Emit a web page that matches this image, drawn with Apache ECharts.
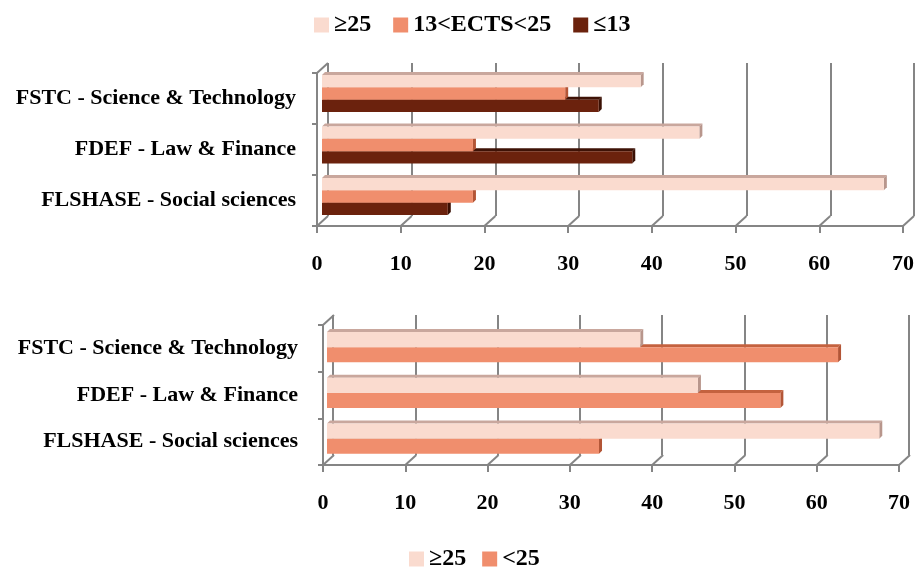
<!DOCTYPE html>
<html>
<head>
<meta charset="utf-8">
<script src="https://cdn.jsdelivr.net/npm/echarts@6/dist/echarts.min.js"></script>
<style>
  html, body { margin: 0; padding: 0; background: #ffffff; }
  #chart { width: 919px; height: 568px; }
</style>
</head>
<body>
<div id="chart"></div>
<script>
// Faculties, listed from top to bottom
const faculties = ['FSTC - Science & Technology', 'FDEF - Law & Finance', 'FLSHASE - Social sciences'];

// Share of students (%) by ECTS credits obtained
const ects25Plus = [38, 45, 67];
const ects13to25 = [29, 18, 18];
const ects13OrLess = [33, 37, 15];
const ectsBelow25 = [62, 55, 33];

// Value axis ticks
const xTicks = [0, 10, 20, 30, 40, 50, 60, 70];

const FONT = 'Liberation Serif';
const GRID_GRAY = '#858585';
const DEPTH_X = 11, DEPTH_Y = 10;   // floor depth of the 3-D box
const BAR_D = 3;                    // depth of each bar

const palette = {
  p25:   { face: '#FADBCF', top: '#C9A79D', side: '#B8968C' },
  p1325: { face: '#F08E6D', top: '#C4623F', side: '#B35536' },
  p13:   { face: '#6B220D', top: '#3E1206', side: '#3A1004' },
};

function toPairs(arr) { return arr.map((v, i) => [v, i]); }

// 3-D looking horizontal bar: front face, top face and right end face
function bar3d(slot, nSlots, ratio, col) {
  return function (params, api) {
    const cat = api.value(1);
    const start = api.coord([0, cat]);
    const end = api.coord([api.value(0), cat]);
    const band = api.size([0, 1])[1];
    const h = band * ratio;
    const y0 = start[1] - h * nSlots / 2 + h * slot;
    const x0 = start[0], x1 = end[0], d = BAR_D;
    return {
      type: 'group',
      children: [
        { type: 'polygon', shape: { points: [[x0, y0], [x1, y0], [x1 + d, y0 - d], [x0 + d, y0 - d]] }, style: { fill: col.top } },
        { type: 'polygon', shape: { points: [[x1, y0], [x1 + d, y0 - d], [x1 + d, y0 + h - d], [x1, y0 + h]] }, style: { fill: col.side } },
        { type: 'rect', shape: { x: x0, y: y0, width: x1 - x0, height: h }, style: { fill: col.face } }
      ]
    };
  };
}

// Floor edges joining the front axis ticks to the back wall, plus the left wall top edge
function floorEdges(params, api) {
  const cs = params.coordSys;
  const x = api.coord([api.value(0), 0])[0];
  const yb = cs.y + cs.height;
  const children = [
    { type: 'line', shape: { x1: x, y1: yb, x2: x + DEPTH_X, y2: yb - DEPTH_Y }, style: { stroke: GRID_GRAY, lineWidth: 2 } }
  ];
  if (params.dataIndex === 0) {
    children.push({ type: 'line', shape: { x1: x, y1: cs.y, x2: x + DEPTH_X, y2: cs.y - DEPTH_Y }, style: { stroke: GRID_GRAY, lineWidth: 2 } });
  }
  return { type: 'group', children: children };
}

const labelStyle = { fontFamily: FONT, fontWeight: 'bold', fontSize: 22, color: '#000' };

function backAxes(gi) {
  return {
    x: { gridIndex: gi, type: 'value', min: 0, max: 70, interval: 10,
         axisLine: { show: false }, axisTick: { show: false }, axisLabel: { show: false },
         splitLine: { show: true, showMinLine: true, showMaxLine: true, lineStyle: { color: GRID_GRAY, width: 2 } } },
    y: { gridIndex: gi, type: 'category', data: faculties, inverse: true,
         axisLine: { show: false }, axisTick: { show: false }, axisLabel: { show: false }, splitLine: { show: false } }
  };
}
function frontAxes(gi, labelMargin) {
  return {
    x: { gridIndex: gi, type: 'value', min: 0, max: 70, interval: 10,
         axisLine: { show: true, lineStyle: { color: GRID_GRAY, width: 2 } },
         axisTick: { show: true, length: 7, lineStyle: { color: GRID_GRAY, width: 2 } },
         axisLabel: Object.assign({ margin: 27 }, labelStyle),
         splitLine: { show: false } },
    y: { gridIndex: gi, type: 'category', data: faculties, inverse: true,
         axisLine: { show: true, lineStyle: { color: GRID_GRAY, width: 2 } },
         axisTick: { show: true, length: 5, lineStyle: { color: GRID_GRAY, width: 2 } },
         axisLabel: Object.assign({ margin: labelMargin }, labelStyle),
         splitLine: { show: false } }
  };
}
function barAxes(gi) {
  return {
    x: { gridIndex: gi, type: 'value', min: 0, max: 70, show: false },
    y: { gridIndex: gi, type: 'category', data: faculties, inverse: true, show: false }
  };
}

const axesList = [
  backAxes(0), frontAxes(1, 21), barAxes(2),
  backAxes(3), frontAxes(4, 25), barAxes(5)
];

const option = {
  backgroundColor: '#ffffff',
  animation: false,
  legend: [
    { data: ['≥25', '13<ECTS<25', '≤13'], left: 309, top: 8, icon: 'rect',
      itemWidth: 15, itemHeight: 15, itemGap: 22, selectedMode: false,
      textStyle: { fontFamily: FONT, fontWeight: 'bold', fontSize: 24, color: '#000' } },
    { data: ['≥25', '<25'], left: 404, top: 542, icon: 'rect',
      itemWidth: 15, itemHeight: 15, itemGap: 16, selectedMode: false,
      textStyle: { fontFamily: FONT, fontWeight: 'bold', fontSize: 24, color: '#000' } }
  ],
  grid: [
    // upper chart: back wall, front edges, bar plane
    { left: 328, top: 63, width: 586, height: 153 },
    { left: 317, top: 73, width: 586, height: 153 },
    { left: 322, top: 67.75, width: 587, height: 154.5 },
    // lower chart
    { left: 333, top: 315, width: 576, height: 140 },
    { left: 323, top: 325, width: 576, height: 140 },
    { left: 327, top: 324.25, width: 577, height: 137.25 }
  ],
  xAxis: axesList.map(a => a.x),
  yAxis: axesList.map(a => a.y),
  series: [
    { type: 'custom', name: 'floorTop', xAxisIndex: 1, yAxisIndex: 1, z: 1, silent: true,
      renderItem: floorEdges, data: xTicks.map(v => [v, 0]) },
    { type: 'custom', name: 'floorBottom', xAxisIndex: 4, yAxisIndex: 4, z: 1, silent: true,
      renderItem: floorEdges, data: xTicks.map(v => [v, 0]) },

    { type: 'custom', name: '≥25', xAxisIndex: 2, yAxisIndex: 2, z: 12,
      itemStyle: { color: palette.p25.face }, encode: { x: 0, y: 1 },
      renderItem: bar3d(0, 3, 0.24, palette.p25), data: toPairs(ects25Plus) },
    { type: 'custom', name: '13<ECTS<25', xAxisIndex: 2, yAxisIndex: 2, z: 11,
      itemStyle: { color: palette.p1325.face }, encode: { x: 0, y: 1 },
      renderItem: bar3d(1, 3, 0.24, palette.p1325), data: toPairs(ects13to25) },
    { type: 'custom', name: '≤13', xAxisIndex: 2, yAxisIndex: 2, z: 10,
      itemStyle: { color: palette.p13.face }, encode: { x: 0, y: 1 },
      renderItem: bar3d(2, 3, 0.24, palette.p13), data: toPairs(ects13OrLess) },

    { type: 'custom', name: '≥25', xAxisIndex: 5, yAxisIndex: 5, z: 12,
      itemStyle: { color: palette.p25.face }, encode: { x: 0, y: 1 },
      renderItem: bar3d(0, 2, 0.328, palette.p25), data: toPairs(ects25Plus) },
    { type: 'custom', name: '<25', xAxisIndex: 5, yAxisIndex: 5, z: 11,
      itemStyle: { color: palette.p1325.face }, encode: { x: 0, y: 1 },
      renderItem: bar3d(1, 2, 0.328, palette.p1325), data: toPairs(ectsBelow25) }
  ]
};

const chart = echarts.init(document.getElementById('chart'), null, { renderer: 'canvas' });
chart.setOption(option);
</script>
</body>
</html>
